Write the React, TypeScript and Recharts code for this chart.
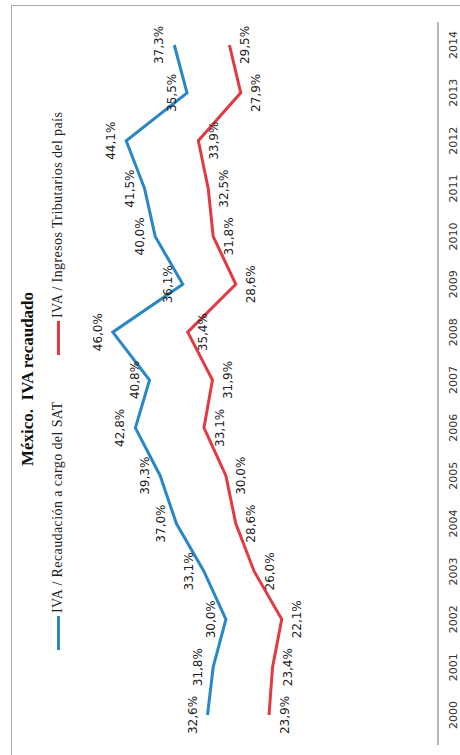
import React from 'react';
import { LineChart, Line, XAxis, YAxis, LabelList } from 'recharts';

const years = ['2000','2001','2002','2003','2004','2005','2006','2007','2008','2009','2010','2011','2012','2013','2014'];
const sat = [32.6, 31.8, 30.0, 33.1, 37.0, 39.3, 42.8, 40.8, 46.0, 36.1, 40.0, 41.5, 44.1, 35.5, 37.3];
const ingresos = [23.9, 23.4, 22.1, 26.0, 28.6, 30.0, 33.1, 31.9, 35.4, 28.6, 31.8, 32.5, 33.9, 27.9, 29.5];
const title = 'México.  IVA recaudado';
const seriesNames = ['IVA / Recaudación a cargo del SAT', 'IVA / Ingresos Tributarios del país'];
const seriesColors = ['#2a87c6', '#e13a41'];

const data = years.map((y, i) => ({ year: y, sat: sat[i], ing: ingresos[i] }));
const fmt = (v: any) => Number(v).toFixed(1).replace('.', ',') + '%';

export default function App() {
  return (
    <div style={{ position: 'absolute', left: 0, top: 0, width: 460, height: 755, overflow: 'hidden', background: '#fff' }}>
      <div style={{ position: 'absolute', left: 0, top: 0, width: 755, height: 460, transformOrigin: '0 0', transform: 'translateY(755px) rotate(-90deg)' }}>
        <div style={{ position: 'absolute', left: -10, top: 11, width: 760, height: 500, border: '1.5px solid #a8a8a8', boxSizing: 'border-box' }} />
        <div style={{ position: 'absolute', left: 0, top: 18, width: 752, textAlign: 'center', fontFamily: '"Liberation Serif", serif', fontWeight: 'bold', fontSize: 17, whiteSpace: 'pre', color: '#111' }}>{title}</div>
        {seriesNames.map((n, i) => (
          <div key={n} style={{ position: 'absolute', left: i === 0 ? 105 : 400, top: 50, display: 'flex', alignItems: 'center', fontFamily: '"Liberation Serif", serif', fontSize: 14, letterSpacing: 0.4, color: '#222', whiteSpace: 'nowrap' }}>
            <span style={{ display: 'inline-block', width: 34, height: 3, background: seriesColors[i], marginRight: 3 }} />
            <span>{n}</span>
          </div>
        ))}
        <div style={{ position: 'absolute', left: 0, top: 0 }}>
          <LineChart width={755} height={460} data={data} margin={{ top: 84.5, right: 22, bottom: 0, left: 10 }}>
            <XAxis dataKey="year" height={22} padding={{ left: 30, right: 23 }} tickLine={false} tickSize={9} tickMargin={2}
              axisLine={{ stroke: '#a0a0a0', strokeWidth: 1.5 }}
              tick={{ fontFamily: '"DejaVu Sans", sans-serif', fontSize: 11, fill: '#333' }} interval={0} />
            <YAxis hide domain={[0, 50]} />
            <Line dataKey="sat" stroke={seriesColors[0]} strokeWidth={3} dot={false} isAnimationActive={false}>
              <LabelList dataKey="sat" position="top" offset={11} formatter={fmt} style={{ fontFamily: '"DejaVu Sans", sans-serif', fontSize: 12, fill: '#222' }} />
            </Line>
            <Line dataKey="ing" stroke={seriesColors[1]} strokeWidth={3} dot={false} isAnimationActive={false}>
              <LabelList dataKey="ing" position="bottom" offset={11} formatter={fmt} style={{ fontFamily: '"DejaVu Sans", sans-serif', fontSize: 12, fill: '#222' }} />
            </Line>
          </LineChart>
        </div>
      </div>
    </div>
  );
}
